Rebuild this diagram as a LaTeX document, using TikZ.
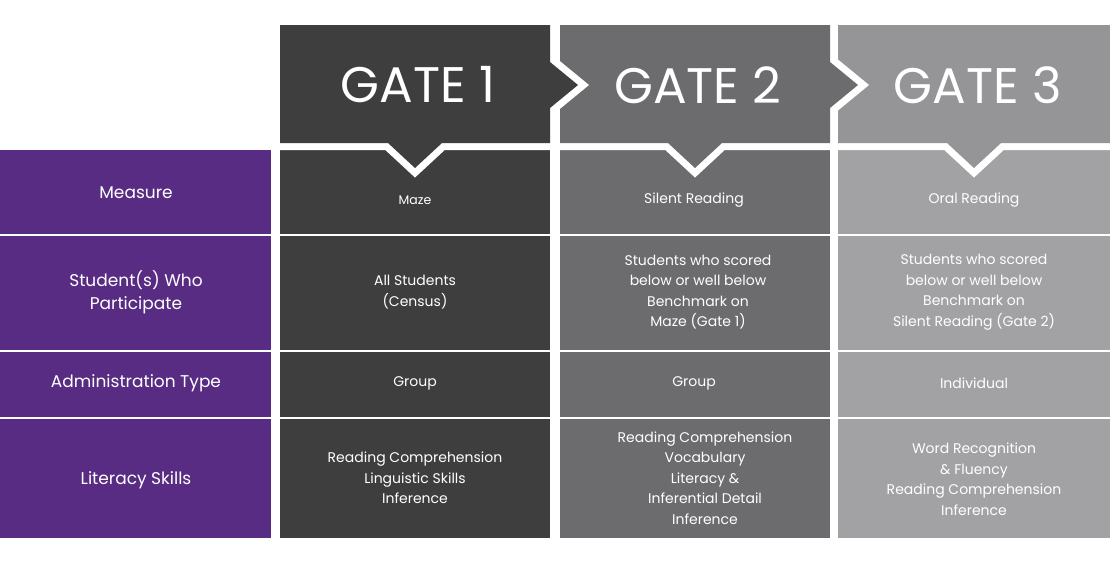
\documentclass[tikz,border=0pt]{standalone}
\usepackage{fontspec}
\setmainfont{Poppins}
\definecolor{pur}{HTML}{582C83}
\definecolor{ga}{HTML}{3E3E3F}
\definecolor{gb}{HTML}{6C6C6E}
\definecolor{gc}{HTML}{959597}
\definecolor{gcb}{HTML}{A2A2A4}
\begin{document}
\begin{tikzpicture}[x=1pt,y=-1pt,
  lab/.style={text=white,align=center,font=\fontsize{17}{23}\selectfont},
  cell/.style={text=white,align=center,font=\fontsize{14}{20.5}\selectfont},
  gate/.style={text=white,font=\fontsize{50}{50}\selectfont}]
\useasboundingbox (0,0) rectangle (1110,560);
\foreach \a/\b in {150/234,236/350,352/417,419/538}{
  \fill[pur] (0,\a) rectangle (271,\b);
  \fill[ga] (280,\a) rectangle (550,\b);
  \fill[gb] (560,\a) rectangle (830,\b);
  \fill[gcb] (838,\a) rectangle (1110,\b);}
\newcommand\hdrpath[4]{(#1,25) -- (#2,25) -- (#2,62) -- (#2+#3,85) -- (#2,108) -- (#2,143)
   -- (#4+27,143) -- (#4,168) -- (#4-27,143) -- (#1,143) -- cycle}
\newcommand\hdr[5]{%
  \draw[white,line width=14pt,line join=miter] \hdrpath{#1}{#2}{#4}{#5};
  \fill[#3] \hdrpath{#1}{#2}{#4}{#5};}
\hdr{838}{1110}{gc}{0}{974}
\hdr{560}{830}{gb}{28}{695}
\hdr{280}{550}{ga}{28}{415}
\node[gate] (g1) at (418,85) {GATE 1};
\node[gate] (g2) at (698,85) {GATE 2};
\node[gate] (g3) at (978,85) {GATE 3};
\node[lab] (l1) at (136,193) {Measure};
\node[lab] (l2) at (136,292) {Student(s) Who\\Participate};
\node[lab] (l3) at (136,383) {Administration Type};
\node[lab] (l4) at (136,480) {Literacy Skills};
\node[cell] (m1) at (415,200) {\fontsize{12.5}{16}\selectfont Maze};
\node[cell] (m2) at (694,200) {Silent Reading};
\node[cell] (m3) at (974,200) {Oral Reading};
\node[cell] (p1) at (415,292) {All Students\\(Census)};
\node[cell] (p2) at (698,292) {Students who scored\\below or well below\\Benchmark on\\Maze (Gate 1)};
\node[cell] (p3) at (974,292) {Students who scored\\below or well below\\Benchmark on\\Silent Reading (Gate 2)};
\node[cell] (a1) at (415,383) {Group};
\node[cell] (a2) at (694,383) {Group};
\node[cell] (a3) at (974,383) {Individual};
\node[cell] (s1) at (415,478) {Reading Comprehension\\Linguistic Skills\\Inference};
\node[cell] (s2) at (705,478) {Reading Comprehension\\Vocabulary\\Literacy \&\\Inferential Detail\\Inference};
\node[cell] (s3) at (974,479) {Word Recognition\\\& Fluency\\Reading Comprehension\\Inference};
\end{tikzpicture}
\end{document}
